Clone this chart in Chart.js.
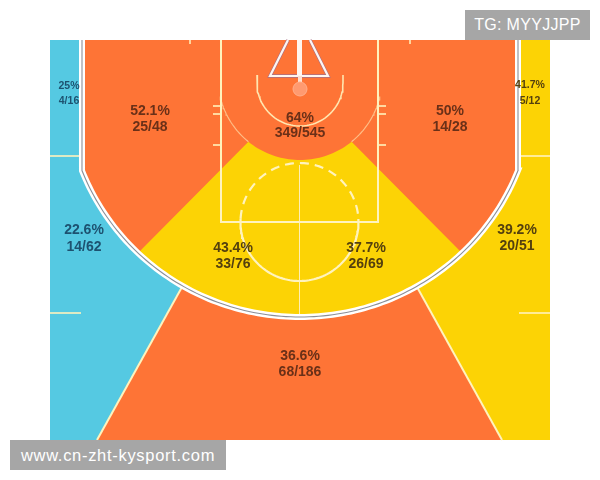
<!DOCTYPE html>
<html>
<head>
<meta charset="utf-8">
<style>
html,body{margin:0;padding:0;background:#fff;width:600px;height:480px;overflow:hidden}
#wrap{position:relative;width:600px;height:480px}
canvas{display:block}
.mark{position:absolute;background:#a6a6a6;color:#fff;font-family:"Liberation Sans",sans-serif;font-size:16px;line-height:30px;text-align:center;white-space:nowrap}
#tg{left:465px;top:10px;width:125px;height:30px;letter-spacing:.3px}
#site{left:10px;top:440px;width:216px;height:30px;font-size:16.5px;letter-spacing:.7px}
</style>
<script src="https://cdn.jsdelivr.net/npm/chart.js@4"></script>
</head>
<body>
<div id="wrap">
<canvas id="c" width="600" height="480"></canvas>
<div class="mark" id="tg">TG: MYYJJPP</div>
<div class="mark" id="site">www.cn-zht-kysport.com</div>
</div>
<script>
// Shooting zones, values
const zonePct  = ['25%','52.1%','64%','50%','41.7%','22.6%','43.4%','37.7%','39.2%','36.6%'];
const zoneMade = [4,25,349,14,5,14,33,26,20,68];
const zoneAtt  = [16,48,545,28,12,62,76,69,51,186];
// Label placement, in court units
const labelX   = [69,150,300,450,530,84,233,366,517,300];
const labelY   = [86,111,118,111,85,230,248,248,230,356];
const labelGap = [15,16,15,16,16,17,16,16,16,16];
const labelPx  = [10.5,14,14,14,10.5,14,14,14,14,14];
const labelInk = ['#1d5270','#6a3018','#6a3018','#6a3018','#54400e','#1d5270','#54400e','#54400e','#54400e','#6a3018'];

// Colours
const ORANGE='#fe7436', BLUE='#55c9e2', YELLOW='#fcd305', LINE='#fff3bd', THIN='rgba(255,240,190,.6)', WHITE='#ffffff';

const P=(x,y)=>({x,y});
function arc(cx,cy,rx,ry,a0,a1,n=90){
  const out=[];
  for(let i=0;i<=n;i++){
    const a=(a0+(a1-a0)*i/n)*Math.PI/180;
    out.push(P(cx+rx*Math.cos(a),cy+ry*Math.sin(a)));
  }
  return out;
}
// Court geometry
const C3=[300,87,234,230], CR=[300,78,82,82], CF=[299.5,222,59,59], CB=[300,83,43,43];
const threeArc=arc(...C3,158.7,21.3,120);
const threePath=[P(82,40),...threeArc,P(518,40)];
const leftHalf=[P(50,40),P(300,40),P(300,440),P(50,440)];
const rightHalf=[P(300,40),P(550,40),P(550,440),P(300,440)];
const topZone=[P(182,287),P(97,440),P(502,440),P(417,287)];
const wedge=[...arc(...CR,129,51,40),...arc(...C3,46.2,133.8,70)];

const ds=[];
function fillShape(data,color){ds.push({data,showLine:true,fill:'shape',backgroundColor:color,borderColor:color,borderWidth:0,pointRadius:0,tension:0});}
function stroke(data,color,width,extra){ds.push(Object.assign({data,showLine:true,fill:false,borderColor:color,borderWidth:width,pointRadius:0,tension:0,borderCapStyle:'butt'},extra||{}));}

fillShape(leftHalf,BLUE);
fillShape(rightHalf,YELLOW);
fillShape(topZone,ORANGE);
fillShape(threePath,ORANGE);
fillShape(wedge,YELLOW);

// Zone dividers and hash marks
stroke([P(182,287),P(97,440)],LINE,2);
stroke([P(417,287),P(502,440)],LINE,2);
stroke([P(50,156),P(80,156)],LINE,1.6);
stroke([P(520,156),P(550,156)],LINE,1.6);
stroke([P(50,313),P(81,313)],LINE,1.6);
stroke([P(519,313),P(550,313)],LINE,1.6);
stroke([P(190,40),P(190,44)],LINE,1.5);
stroke([P(410,40),P(410,44)],LINE,1.5);
// Paint
stroke([P(221,40),P(221,222),P(378,222),P(378,40)],LINE,2);
[106,114,145].forEach(y=>{
  stroke([P(213,y),P(221,y)],LINE,1.6);
  stroke([P(378,y),P(386,y)],LINE,1.6);
});
// Centre line
stroke([P(299.5,165),P(299.5,314)],THIN,1);
// Free throw circle
stroke(arc(...CF,-3,183,80),LINE,2.2);
stroke(arc(...CF,183,357,80),LINE,2.2,{borderDash:[9,6]});
// Restricted zone edge inside the orange
stroke(arc(...CR,129,167,30),THIN,1.2);
stroke(arc(...CR,51,13,30),THIN,1.2);
// Restricted arc
stroke([P(257,75),...arc(...CB,180,0,60),P(343,75)],'#ffe6b0',1.6);
// Backboard triangle
const tri=[P(288,40),P(270,76),P(328,76),P(310,40)];
stroke(tri,'#a5708a',3.4);
stroke(tri,'#fff6f0',2.2);
stroke([P(299.5,40),P(299.5,76)],'#fff6f0',5);
stroke([P(300,76),P(300,82)],'#ffe0d0',4);
// Rim
ds.push({data:[P(300,89)],showLine:false,pointRadius:7,pointBackgroundColor:'#ff9a70',pointBorderColor:'#ffae8a',pointBorderWidth:1});
// Three-point line: white band with a grey core
stroke(threePath,WHITE,6,{borderJoinStyle:'miter'});
stroke(threePath,'#8b8f98',1.1);

ds.forEach((d,i)=>{d.order=ds.length-i;});

const zoneText={
  id:'zoneText',
  afterDraw(chart){
    const {ctx,scales:{x,y}}=chart;
    ctx.save();
    ctx.textAlign='center';
    ctx.textBaseline='middle';
    zonePct.forEach((p,i)=>{
      const px=x.getPixelForValue(labelX[i]);
      const py=y.getPixelForValue(labelY[i]);
      ctx.font='bold '+labelPx[i]+'px "Liberation Sans", Arial, sans-serif';
      ctx.fillStyle=labelInk[i];
      ctx.fillText(p,px,py);
      ctx.fillText(zoneMade[i]+'/'+zoneAtt[i],px,py+labelGap[i]);
    });
    ctx.restore();
  }
};

new Chart(document.getElementById('c'),{
  type:'scatter',
  data:{datasets:ds},
  options:{
    responsive:false,
    animation:false,
    events:[],
    layout:{padding:0,autoPadding:false},
    plugins:{legend:{display:false},tooltip:{enabled:false},title:{display:false}},
    scales:{
      x:{type:'linear',min:0,max:600,display:false},
      y:{type:'linear',min:0,max:480,reverse:true,display:false}
    }
  },
  plugins:[zoneText]
});
</script>
</body>
</html>
